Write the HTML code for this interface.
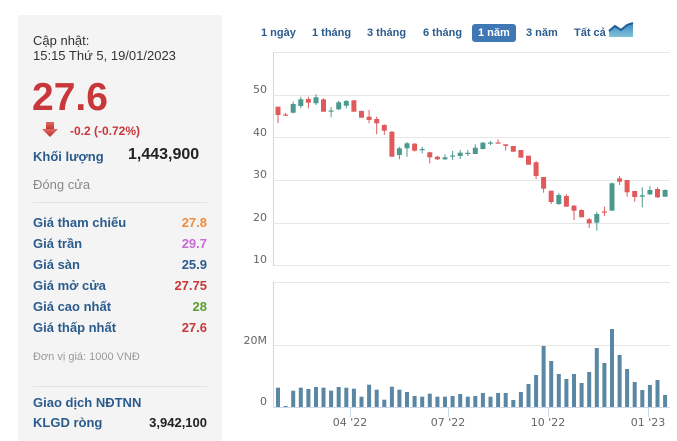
<!DOCTYPE html>
<html><head><meta charset="utf-8"><style>
html,body{margin:0;padding:0;background:#fff;width:677px;height:441px;overflow:hidden;position:relative;font-family:"Liberation Sans",Arial,sans-serif;}
.a{position:absolute;white-space:nowrap;}
#panel{position:absolute;left:18px;top:15px;width:204px;height:440px;background:#f4f4f4;}
.lbl{position:absolute;left:33px;font-weight:bold;font-size:13px;color:#2b5b8c;line-height:16px;}
.val{position:absolute;right:470px;font-weight:bold;font-size:13px;line-height:16px;text-align:right;}
.tab{position:absolute;top:25px;font-weight:bold;font-size:11px;color:#2b5b8c;line-height:16px;}
</style></head><body>
<div id="panel"></div>
<div class="a" style="left:33px;top:33px;font-size:13px;line-height:15px;color:#333;">Cập nhật:<br>15:15 Thứ 5, 19/01/2023</div>
<div class="a" style="left:32px;top:78px;font-size:39px;line-height:39px;font-weight:bold;color:#c8373a;">27.6</div>
<svg class="a" style="left:40px;top:120px" width="20" height="20"><defs><linearGradient id="ar" x1="0" y1="0" x2="0" y2="1"><stop offset="0" stop-color="#e26a62"/><stop offset="1" stop-color="#b8302c"/></linearGradient></defs><rect x="6" y="2" width="8" height="8" fill="url(#ar)"/><polygon points="2,9 18,9 10,17" fill="url(#ar)"/></svg>
<div class="a" style="left:70px;top:123px;font-size:12px;line-height:16px;font-weight:bold;color:#c8373a;">-0.2 (-0.72%)</div>
<div class="a" style="left:33px;top:149px;font-size:13px;line-height:16px;font-weight:bold;color:#2b5b8c;">Khối lượng</div>
<div class="a" style="left:128px;top:146px;font-size:16px;line-height:18px;font-weight:bold;color:#222;">1,443,900</div>
<div class="a" style="left:33px;top:177px;font-size:13px;line-height:16px;color:#888;">Đóng cửa</div>
<div class="a" style="left:33px;top:202px;width:174px;height:1px;background:#e2e2e2;"></div>

<div class="lbl" style="top:215px">Giá tham chiếu</div><div class="val" style="top:215px;color:#ee8d3a">27.8</div>
<div class="lbl" style="top:236px">Giá trần</div><div class="val" style="top:236px;color:#c96ad8">29.7</div>
<div class="lbl" style="top:257px">Giá sàn</div><div class="val" style="top:257px;color:#2b5b8c">25.9</div>
<div class="lbl" style="top:278px">Giá mở cửa</div><div class="val" style="top:278px;color:#c8373a">27.75</div>
<div class="lbl" style="top:299px">Giá cao nhất</div><div class="val" style="top:299px;color:#5a9e2f">28</div>
<div class="lbl" style="top:320px">Giá thấp nhất</div><div class="val" style="top:320px;color:#c8373a">27.6</div>
<div class="a" style="left:33px;top:350px;font-size:11px;line-height:15px;color:#999;">Đơn vị giá: 1000 VNĐ</div>
<div class="a" style="left:33px;top:386px;width:174px;height:1px;background:#e2e2e2;"></div>
<div class="lbl" style="top:395px">Giao dịch NĐTNN</div>
<div class="lbl" style="top:415px">KLGD ròng</div><div class="val" style="top:415px;color:#222">3,942,100</div>
<div class="lbl" style="top:439px">GT ròng</div><div class="val" style="top:439px;color:#222">114.19 (Tỷ)</div>

<div class="tab" style="left:261px">1 ngày</div>
<div class="tab" style="left:312px">1 tháng</div>
<div class="tab" style="left:367px">3 tháng</div>
<div class="tab" style="left:423px">6 tháng</div>
<div class="a" style="left:472px;top:24px;width:44px;height:18px;background:#3f78b4;border-radius:3px;"></div>
<div class="tab" style="left:478px;color:#fff">1 năm</div>
<div class="tab" style="left:526px">3 năm</div>
<div class="tab" style="left:574px">Tất cả</div>
<svg class="a" style="left:608px;top:22px" width="27" height="16"><defs><linearGradient id="ic" x1="0" y1="0" x2="0" y2="1"><stop offset="0" stop-color="#3f86c4"/><stop offset="1" stop-color="#7fc3d8"/></linearGradient></defs><polygon points="1,15 1,9 7,4 13,8 19,3 25,1 25,15" fill="url(#ic)"/><polyline points="1,9 7,4 13,8 19,3 25,1" fill="none" stroke="#1f5f9a" stroke-width="2"/></svg>

<svg class="a" style="left:0;top:0" width="677" height="441" font-family="'DejaVu Sans',sans-serif" font-size="11" fill="#666">
<g stroke="#e6e6e6" stroke-width="1">
<line x1="273" y1="52.5" x2="670" y2="52.5"/>
<line x1="273" y1="95.5" x2="670" y2="95.5"/>
<line x1="273" y1="137.5" x2="670" y2="137.5"/>
<line x1="273" y1="180.5" x2="670" y2="180.5"/>
<line x1="273" y1="223.5" x2="670" y2="223.5"/>
<line x1="273" y1="265.5" x2="670" y2="265.5"/>
<line x1="273" y1="282.5" x2="670" y2="282.5"/>
<line x1="273" y1="345.5" x2="670" y2="345.5"/>
</g>
<g stroke="#ccd6eb" stroke-width="1">
<line x1="273.5" y1="52" x2="273.5" y2="266"/>
<line x1="273.5" y1="282" x2="273.5" y2="407"/>
<line x1="273" y1="407.5" x2="670" y2="407.5"/>
<line x1="350.5" y1="407" x2="350.5" y2="417"/>
<line x1="448.5" y1="407" x2="448.5" y2="417"/>
<line x1="548.5" y1="407" x2="548.5" y2="417"/>
<line x1="648.5" y1="407" x2="648.5" y2="417"/>
</g>
<g text-anchor="end">
<text x="267" y="93">50</text>
<text x="267" y="136">40</text>
<text x="267" y="178">30</text>
<text x="267" y="221">20</text>
<text x="267" y="263">10</text>
<text x="267" y="344">20M</text>
<text x="267" y="405">0</text>
</g>
<g text-anchor="middle">
<text x="350" y="426">04 '22</text>
<text x="448" y="426">07 '22</text>
<text x="548" y="426">10 '22</text>
<text x="648" y="426">01 '23</text>
</g>
<g fill="#5a87a3">
<rect x="276" y="387.7" width="4" height="19.3"/>
<rect x="283.6" y="406" width="4" height="1"/>
<rect x="291.2" y="390.7" width="4" height="16.3"/>
<rect x="298.8" y="387.7" width="4" height="19.3"/>
<rect x="306.4" y="389" width="4" height="18"/>
<rect x="314" y="387" width="4" height="20"/>
<rect x="321.5" y="387.7" width="4" height="19.3"/>
<rect x="329.1" y="390.7" width="4" height="16.3"/>
<rect x="336.7" y="387" width="4" height="20"/>
<rect x="344.3" y="387.7" width="4" height="19.3"/>
<rect x="351.9" y="388.7" width="4" height="18.3"/>
<rect x="359.5" y="396.7" width="4" height="10.3"/>
<rect x="367.1" y="384.7" width="4" height="22.3"/>
<rect x="374.7" y="389.7" width="4" height="17.3"/>
<rect x="382.3" y="399.7" width="4" height="7.3"/>
<rect x="389.9" y="386.7" width="4" height="20.3"/>
<rect x="397.4" y="389.7" width="4" height="17.3"/>
<rect x="405" y="392" width="4" height="15"/>
<rect x="412.6" y="396" width="4" height="11"/>
<rect x="420.2" y="396.7" width="4" height="10.3"/>
<rect x="427.8" y="393.7" width="4" height="13.3"/>
<rect x="435.4" y="396.7" width="4" height="10.3"/>
<rect x="443" y="396.7" width="4" height="10.3"/>
<rect x="450.6" y="396" width="4" height="11"/>
<rect x="458.2" y="394" width="4" height="13"/>
<rect x="465.8" y="396.7" width="4" height="10.3"/>
<rect x="473.3" y="396" width="4" height="11"/>
<rect x="480.9" y="393" width="4" height="14"/>
<rect x="488.5" y="396.7" width="4" height="10.3"/>
<rect x="496.1" y="393" width="4" height="14"/>
<rect x="503.7" y="393" width="4" height="14"/>
<rect x="511.3" y="400" width="4" height="7"/>
<rect x="518.9" y="392" width="4" height="15"/>
<rect x="526.5" y="384" width="4" height="23"/>
<rect x="534.1" y="375" width="4" height="32"/>
<rect x="541.6" y="346" width="4" height="61"/>
<rect x="549.2" y="361" width="4" height="46"/>
<rect x="556.8" y="374" width="4" height="33"/>
<rect x="564.4" y="379" width="4" height="28"/>
<rect x="572" y="374" width="4" height="33"/>
<rect x="579.6" y="383" width="4" height="24"/>
<rect x="587.2" y="372" width="4" height="35"/>
<rect x="594.8" y="348" width="4" height="59"/>
<rect x="602.4" y="363" width="4" height="44"/>
<rect x="610" y="329" width="4" height="78"/>
<rect x="617.6" y="355" width="4" height="52"/>
<rect x="625.1" y="369" width="4" height="38"/>
<rect x="632.7" y="382" width="4" height="25"/>
<rect x="640.3" y="390" width="4" height="17"/>
<rect x="647.9" y="385" width="4" height="22"/>
<rect x="655.5" y="380" width="4" height="27"/>
<rect x="663.1" y="395" width="4" height="12"/>
</g>
<g stroke="#e05a5b" fill="#e05a5b" stroke-width="1">
<line x1="278" y1="106.7" x2="278" y2="123.3"/><rect x="275.5" y="106.7" width="5" height="8.3" stroke="none"/>
<line x1="285.6" y1="113" x2="285.6" y2="116"/><rect x="283.1" y="114.5" width="5" height="1.2" stroke="none"/>
<line x1="308.4" y1="96.7" x2="308.4" y2="108.3"/><rect x="305.9" y="99" width="5" height="3.7" stroke="none"/>
<line x1="323.5" y1="98.3" x2="323.5" y2="111.7"/><rect x="321" y="99.3" width="5" height="12.4" stroke="none"/>
<line x1="353.9" y1="100" x2="353.9" y2="111.7"/><rect x="351.4" y="100.3" width="5" height="11.4" stroke="none"/>
<line x1="361.5" y1="110.5" x2="361.5" y2="118"/><rect x="359" y="111" width="5" height="6.7" stroke="none"/>
<line x1="369.1" y1="110" x2="369.1" y2="123.3"/><rect x="366.6" y="116.7" width="5" height="3.3" stroke="none"/>
<line x1="376.7" y1="116.7" x2="376.7" y2="134.3"/><rect x="374.2" y="119" width="5" height="4.3" stroke="none"/>
<line x1="384.3" y1="124.3" x2="384.3" y2="135"/><rect x="381.8" y="125" width="5" height="5.7" stroke="none"/>
<line x1="391.9" y1="131" x2="391.9" y2="156.7"/><rect x="389.4" y="131.7" width="5" height="25" stroke="none"/>
<line x1="414.6" y1="143" x2="414.6" y2="151.5"/><rect x="412.1" y="143.7" width="5" height="7" stroke="none"/>
<line x1="429.8" y1="151.7" x2="429.8" y2="163.3"/><rect x="427.3" y="152.3" width="5" height="5" stroke="none"/>
<line x1="437.4" y1="156" x2="437.4" y2="160"/><rect x="434.9" y="156.7" width="5" height="2.6" stroke="none"/>
<line x1="498.1" y1="139.3" x2="498.1" y2="143.5"/><rect x="495.6" y="142.5" width="5" height="1.2" stroke="none"/>
<line x1="505.7" y1="144.3" x2="505.7" y2="150.7"/><rect x="503.2" y="144.3" width="5" height="1.6" stroke="none"/>
<line x1="513.3" y1="146" x2="513.3" y2="151.7"/><rect x="510.8" y="146" width="5" height="5.7" stroke="none"/>
<line x1="520.9" y1="150" x2="520.9" y2="157.7"/><rect x="518.4" y="150" width="5" height="7.7" stroke="none"/>
<line x1="528.5" y1="155.7" x2="528.5" y2="164.7"/><rect x="526" y="155.7" width="5" height="9" stroke="none"/>
<line x1="536.1" y1="161" x2="536.1" y2="179"/><rect x="533.6" y="162.3" width="5" height="13.7" stroke="none"/>
<line x1="543.6" y1="177" x2="543.6" y2="192.7"/><rect x="541.1" y="177" width="5" height="11.7" stroke="none"/>
<line x1="551.2" y1="190.7" x2="551.2" y2="204"/><rect x="548.7" y="190.7" width="5" height="11.3" stroke="none"/>
<line x1="566.4" y1="194.3" x2="566.4" y2="206.7"/><rect x="563.9" y="196" width="5" height="10.7" stroke="none"/>
<line x1="574" y1="205" x2="574" y2="220"/><rect x="571.5" y="205.7" width="5" height="5" stroke="none"/>
<line x1="581.6" y1="209.3" x2="581.6" y2="217.3"/><rect x="579.1" y="210" width="5" height="7.3" stroke="none"/>
<line x1="589.2" y1="218" x2="589.2" y2="228"/><rect x="586.7" y="219.3" width="5" height="4" stroke="none"/>
<line x1="604.4" y1="206.7" x2="604.4" y2="216"/><rect x="601.9" y="211.5" width="5" height="1.2" stroke="none"/>
<line x1="619.6" y1="176" x2="619.6" y2="185"/><rect x="617.1" y="178.3" width="5" height="3.4" stroke="none"/>
<line x1="627.1" y1="180" x2="627.1" y2="196.7"/><rect x="624.6" y="180" width="5" height="12.3" stroke="none"/>
<line x1="634.7" y1="191" x2="634.7" y2="201.7"/><rect x="632.2" y="191" width="5" height="6" stroke="none"/>
<line x1="657.5" y1="187.3" x2="657.5" y2="198"/><rect x="655" y="189" width="5" height="8.3" stroke="none"/>
</g>
<g stroke="#4c9a8f" fill="#4c9a8f" stroke-width="1">
<line x1="293.2" y1="101.7" x2="293.2" y2="113.3"/><rect x="290.7" y="104" width="5" height="8.7" stroke="none"/>
<line x1="300.8" y1="96.7" x2="300.8" y2="108.3"/><rect x="298.3" y="99.3" width="5" height="6.7" stroke="none"/>
<line x1="316" y1="94.3" x2="316" y2="105"/><rect x="313.5" y="97.3" width="5" height="6" stroke="none"/>
<line x1="331.1" y1="107" x2="331.1" y2="117.3"/><rect x="328.6" y="110.5" width="5" height="1.2" stroke="none"/>
<line x1="338.7" y1="100.7" x2="338.7" y2="110"/><rect x="336.2" y="102.3" width="5" height="7" stroke="none"/>
<line x1="346.3" y1="100" x2="346.3" y2="108.3"/><rect x="343.8" y="101" width="5" height="4.7" stroke="none"/>
<line x1="399.4" y1="146.7" x2="399.4" y2="159.3"/><rect x="396.9" y="148.3" width="5" height="6.7" stroke="none"/>
<line x1="407" y1="142" x2="407" y2="156.7"/><rect x="404.5" y="143.3" width="5" height="5" stroke="none"/>
<line x1="422.2" y1="146.7" x2="422.2" y2="153.3"/><rect x="419.7" y="149" width="5" height="1.2" stroke="none"/>
<line x1="445" y1="154.3" x2="445" y2="160"/><rect x="442.5" y="157.3" width="5" height="2" stroke="none"/>
<line x1="452.6" y1="151" x2="452.6" y2="160"/><rect x="450.1" y="155.5" width="5" height="1.2" stroke="none"/>
<line x1="460.2" y1="150" x2="460.2" y2="159"/><rect x="457.7" y="152.7" width="5" height="3.3" stroke="none"/>
<line x1="467.8" y1="150" x2="467.8" y2="156"/><rect x="465.3" y="152.8" width="5" height="1.2" stroke="none"/>
<line x1="475.3" y1="144.3" x2="475.3" y2="154"/><rect x="472.8" y="147.7" width="5" height="6.3" stroke="none"/>
<line x1="482.9" y1="142" x2="482.9" y2="149.3"/><rect x="480.4" y="142.7" width="5" height="6.3" stroke="none"/>
<line x1="490.5" y1="141" x2="490.5" y2="145"/><rect x="488" y="142.5" width="5" height="1.2" stroke="none"/>
<line x1="558.8" y1="193.3" x2="558.8" y2="205"/><rect x="556.3" y="195" width="5" height="9" stroke="none"/>
<line x1="596.8" y1="211.7" x2="596.8" y2="230.7"/><rect x="594.3" y="214" width="5" height="8.7" stroke="none"/>
<line x1="612" y1="182.5" x2="612" y2="210.7"/><rect x="609.5" y="183.3" width="5" height="27.4" stroke="none"/>
<line x1="642.3" y1="187.3" x2="642.3" y2="207.3"/><rect x="639.8" y="195.3" width="5" height="1.4" stroke="none"/>
<line x1="649.9" y1="186" x2="649.9" y2="195"/><rect x="647.4" y="190" width="5" height="4.3" stroke="none"/>
<line x1="665.1" y1="189.3" x2="665.1" y2="197"/><rect x="662.6" y="190" width="5" height="6.7" stroke="none"/>
</g>
</svg>
</body></html>
